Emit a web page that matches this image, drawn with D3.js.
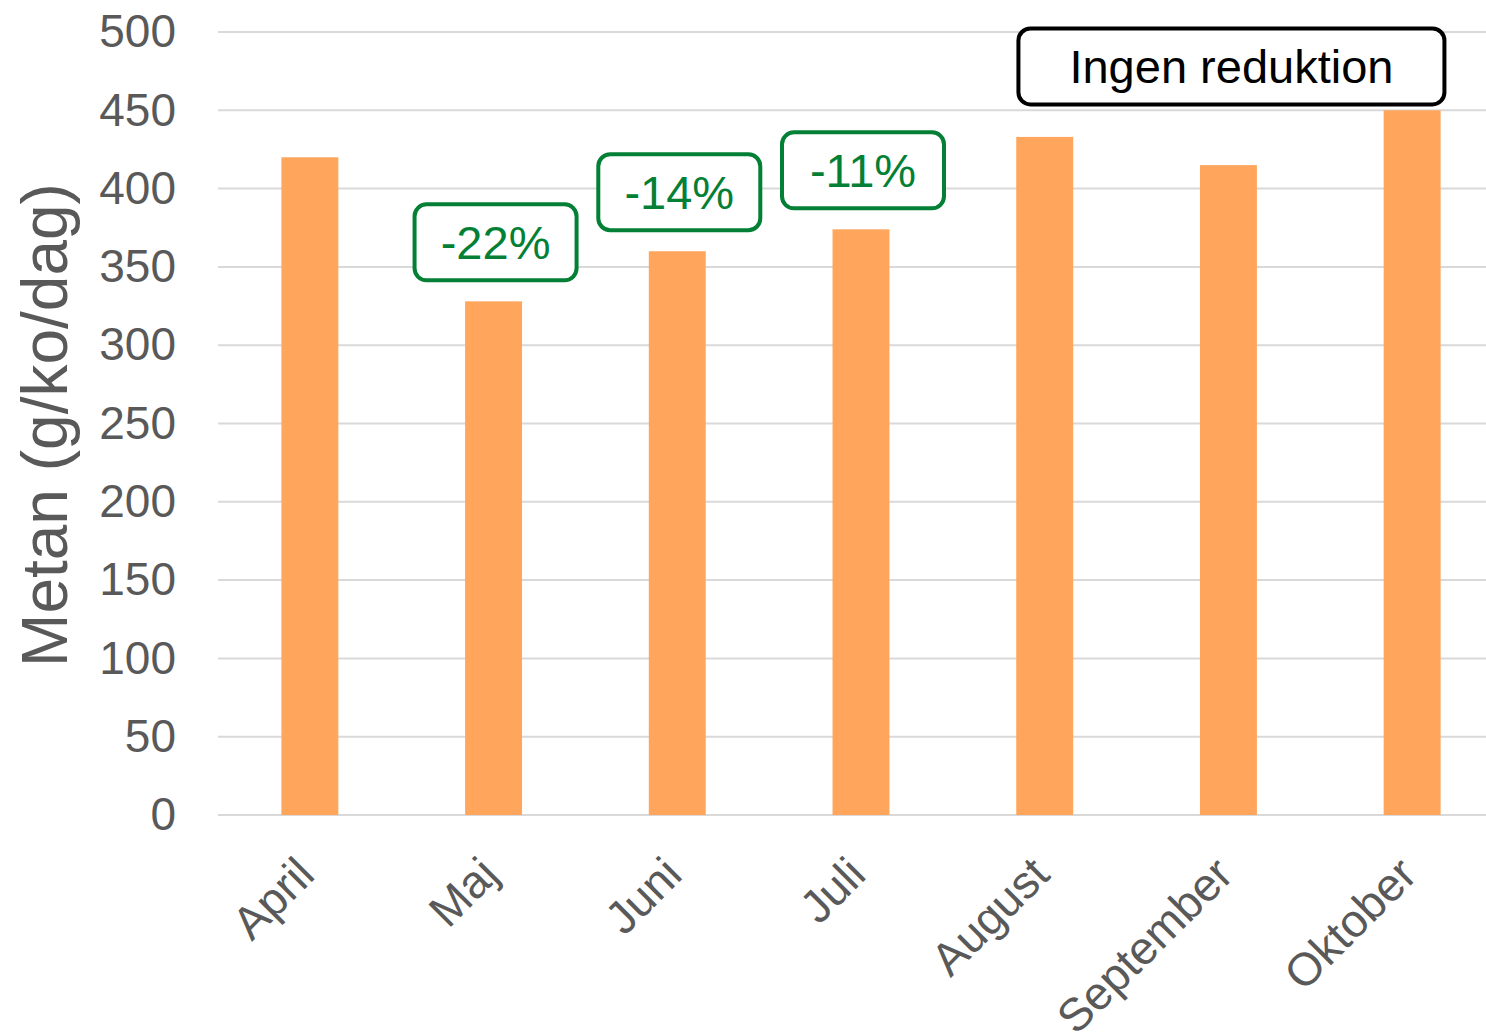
<!DOCTYPE html>
<html lang="sv">
<head>
<meta charset="utf-8">
<title>Metan</title>
<script src="https://cdn.jsdelivr.net/npm/d3@7"></script>
<style>
  body { margin: 0; background: #fff; }
  svg text { font-family: "Liberation Sans", Arial, sans-serif; }
</style>
</head>
<body>
<script>
// data
var months = ["April", "Maj", "Juni", "Juli", "August", "September", "Oktober"];
var metan = [420, 328, 360, 374, 433, 415, 450];
var yTicks = [0, 50, 100, 150, 200, 250, 300, 350, 400, 450, 500];
// reduktion labels per month
var notes = [
  { month: "Maj", text: "-22%" },
  { month: "Juni", text: "-14%" },
  { month: "Juli", text: "-11%" }
];
var noNote = { from: "August", to: "Oktober", text: "Ingen reduktion", value: 478 };

var width = 1486, height = 1036;
var svg = d3.select("body").append("svg")
  .attr("width", width)
  .attr("height", height);

var x = d3.scaleBand()
  .domain(months)
  .range([218, 1504])
  .paddingInner(0.69)
  .paddingOuter(0.345);

var y = d3.scaleLinear()
  .domain([0, 500])
  .range([815, 32]);

// gridlines
svg.append("g")
  .selectAll("line")
  .data(yTicks)
  .enter()
  .append("line")
  .attr("x1", 218)
  .attr("x2", width)
  .attr("y1", function (d) { return y(d); })
  .attr("y2", function (d) { return y(d); })
  .attr("stroke", "#d9d9d9")
  .attr("stroke-width", 2);

// y axis labels
var yAxis = d3.axisLeft(y).tickValues(yTicks).tickSize(0).tickPadding(0);
var gy = svg.append("g")
  .attr("transform", "translate(176,0)")
  .call(yAxis);
gy.select(".domain").remove();
gy.selectAll("text")
  .attr("font-size", 46)
  .attr("fill", "#595959")
  .attr("font-family", "Liberation Sans, Arial, sans-serif");

// bars
svg.append("g")
  .selectAll("rect")
  .data(metan)
  .enter()
  .append("rect")
  .attr("x", function (d, i) { return x(months[i]); })
  .attr("width", x.bandwidth())
  .attr("y", function (d) { return y(d); })
  .attr("height", function (d) { return y(0) - y(d); })
  .attr("fill", "#ffa65c");

// x axis labels (rotated)
var xAxis = d3.axisBottom(x).tickSize(0).tickPadding(0);
var gx = svg.append("g")
  .attr("transform", "translate(0,815)")
  .call(xAxis);
gx.select(".domain").remove();
gx.selectAll("text")
  .attr("font-size", 46)
  .attr("fill", "#595959")
  .attr("font-family", "Liberation Sans, Arial, sans-serif")
  .attr("text-anchor", "end")
  .attr("dy", null)
  .attr("y", 0)
  .attr("transform", "translate(7,62) rotate(-45)");

// reduction boxes
var boxW = 162, boxH = 76;
var ng = svg.append("g")
  .selectAll("g")
  .data(notes)
  .enter()
  .append("g")
  .attr("transform", function (d) {
    var cx = x(d.month) + x.bandwidth() / 2 + 2;
    var v = metan[months.indexOf(d.month)];
    return "translate(" + cx + "," + (y(v) - 21 - boxH / 2) + ")";
  });
ng.append("rect")
  .attr("x", -boxW / 2)
  .attr("y", -boxH / 2)
  .attr("width", boxW)
  .attr("height", boxH)
  .attr("rx", 12)
  .attr("fill", "#fff")
  .attr("stroke", "#038035")
  .attr("stroke-width", 4);
ng.append("text")
  .attr("text-anchor", "middle")
  .attr("dy", "0.35em")
  .attr("font-size", 47)
  .attr("fill", "#038035")
  .text(function (d) { return d.text; });

// no reduction box
var x0 = x(noNote.from) + x.bandwidth() / 2, x1 = x(noNote.to) + x.bandwidth() / 2;
var nb = svg.append("g")
  .attr("transform", "translate(" + ((x0 + x1) / 2 + 3) + "," + y(noNote.value) + ")");
nb.append("rect")
  .attr("x", -213)
  .attr("y", -38)
  .attr("width", 426)
  .attr("height", 76)
  .attr("rx", 12)
  .attr("fill", "#fff")
  .attr("stroke", "#000")
  .attr("stroke-width", 4);
nb.append("text")
  .attr("text-anchor", "middle")
  .attr("dy", "0.35em")
  .attr("font-size", 47)
  .attr("fill", "#000")
  .text(noNote.text);

// y axis title
svg.append("text")
  .attr("transform", "translate(67,425) rotate(-90)")
  .attr("text-anchor", "middle")
  .attr("font-size", 64)
  .attr("fill", "#595959")
  .text("Metan (g/ko/dag)");
</script>
</body>
</html>
